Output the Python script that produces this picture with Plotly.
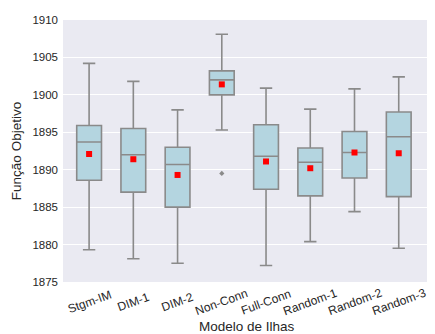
import plotly.graph_objects as go

categories = ["Stgm-IM", "DIM-1", "DIM-2", "Non-Conn", "Full-Conn", "Random-1", "Random-2", "Random-3"]
lower_whisker = [1879.3, 1878.1, 1877.5, 1895.3, 1877.2, 1880.4, 1884.4, 1879.5]
q1 = [1888.6, 1887.0, 1885.0, 1900.0, 1887.4, 1886.5, 1888.9, 1886.4]
median = [1893.7, 1892.0, 1890.7, 1902.0, 1891.8, 1891.0, 1892.3, 1894.4]
q3 = [1895.9, 1895.5, 1893.0, 1903.2, 1896.0, 1892.9, 1895.1, 1897.7]
upper_whisker = [1904.2, 1901.8, 1898.0, 1908.1, 1900.9, 1898.1, 1900.8, 1902.4]
means = [1892.1, 1891.4, 1889.3, 1901.4, 1891.1, 1890.2, 1892.3, 1892.2]
outlier_cats = ["Non-Conn"]
outlier_vals = [1889.5]
yticks = [1875, 1880, 1885, 1890, 1895, 1900, 1905, 1910]

FONT = "Liberation Sans, Arial, sans-serif"
TXT = "#262626"

fig = go.Figure()
fig.add_trace(go.Box(
    x=categories, q1=q1, median=median, q3=q3,
    lowerfence=lower_whisker, upperfence=upper_whisker,
    fillcolor="#b4d5e0", line=dict(color="#8a8a8a", width=1.6),
    whiskerwidth=0.5, boxpoints=False, showlegend=False,
))
fig.add_trace(go.Scatter(
    x=outlier_cats, y=outlier_vals, mode="markers",
    marker=dict(symbol="diamond", size=4, color="#8a8a8a"), showlegend=False,
))
fig.add_trace(go.Scatter(
    x=categories, y=means, mode="markers",
    marker=dict(symbol="square", size=6, color="red"), showlegend=False,
))

# rotated, centred category labels
for c in categories:
    fig.add_annotation(
        x=c, xref="x", y=0, yref="paper", yshift=-20,
        text=c, textangle=-20, showarrow=False,
        xanchor="center", yanchor="middle",
        font=dict(family=FONT, size=12, color=TXT),
    )
fig.add_annotation(
    x=0.5, xref="paper", y=0, yref="paper", yshift=-44,
    text="Modelo de Ilhas", showarrow=False, xanchor="center", yanchor="middle",
    font=dict(family=FONT, size=13.5, color=TXT),
)

fig.update_layout(
    width=427, height=326,
    margin=dict(l=55, r=5, t=12, b=52),
    paper_bgcolor="white", plot_bgcolor="#eaeaf2",
    font=dict(family=FONT, size=11.5, color=TXT),
    boxgap=0.2,
)
fig.update_xaxes(
    showticklabels=False, showgrid=False, zeroline=False, ticks="", automargin=False,
)
fig.update_yaxes(
    title=dict(text="Função Objetivo", font=dict(size=13.5), standoff=7),
    range=[1875, 1910], tickvals=yticks, gridcolor="white", gridwidth=1,
    zeroline=False, ticks="", tickfont=dict(size=11.5), automargin=False,
    ticklabelstandoff=4,
)
fig.write_html("out.html")
